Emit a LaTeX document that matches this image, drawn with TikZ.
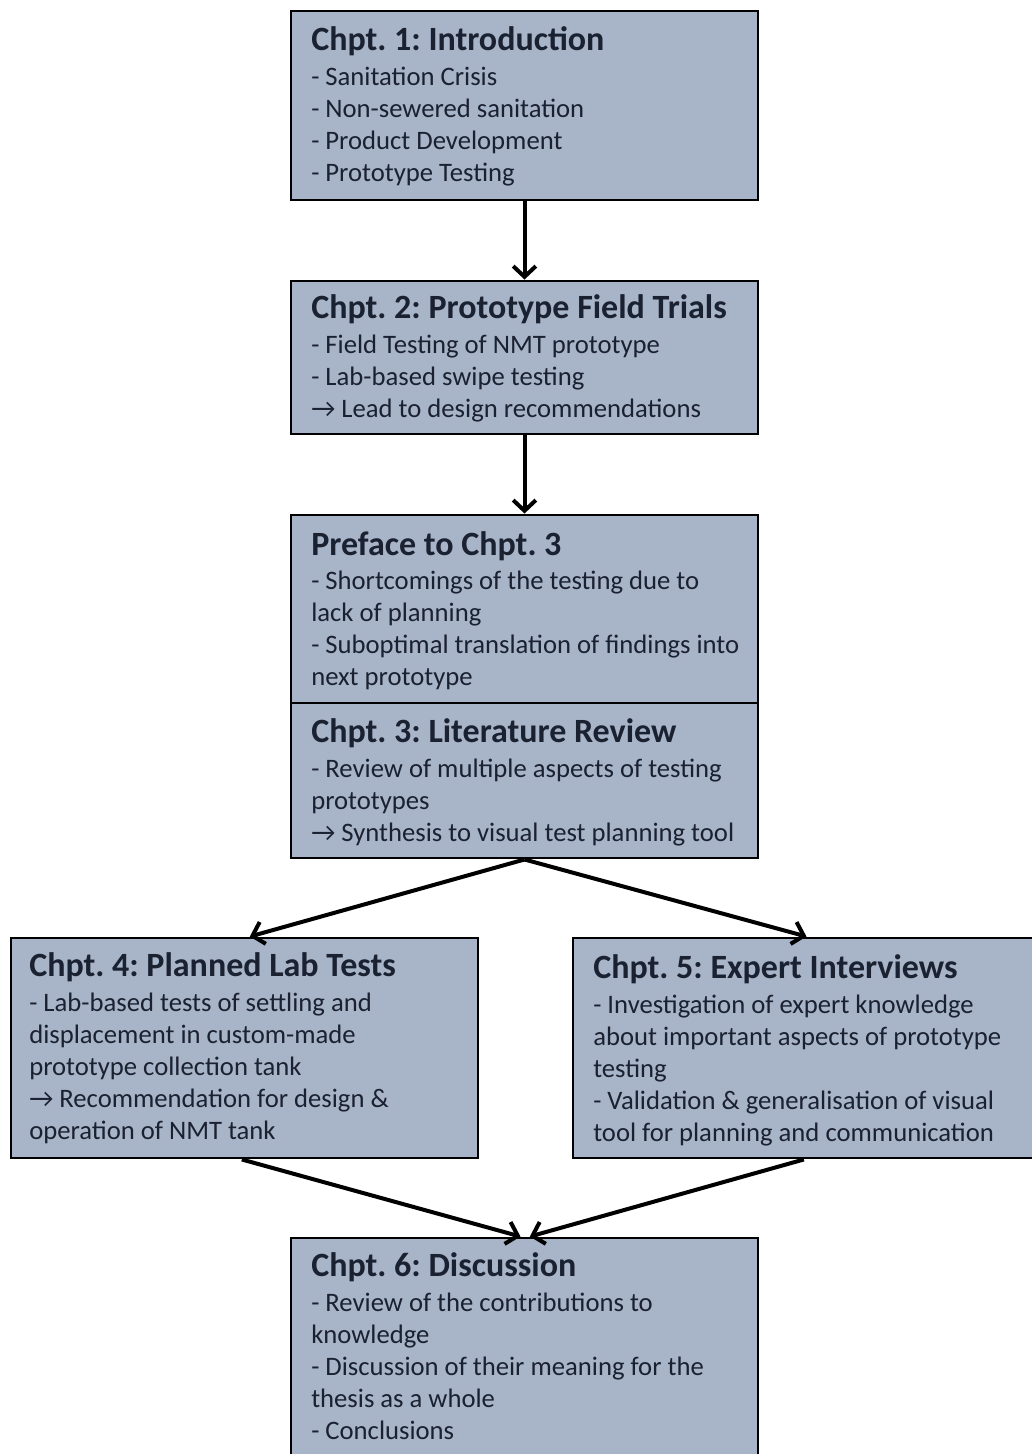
\documentclass[tikz,border=0pt]{standalone}
\usepackage{fontspec}
\setmainfont{Carlito}
\frenchspacing
\usetikzlibrary{arrows.meta,fit}
\definecolor{boxfill}{HTML}{A8B4C8}
\definecolor{txtcol}{HTML}{1A2131}
\newcommand{\bodylines}[1]{\parbox[t]{360pt}{\raggedright #1}}
\begin{document}
\begin{tikzpicture}[x=0.75pt,y=-0.75pt,
 box/.style={draw=black, line width=2.2pt, fill=boxfill, inner sep=0pt},
 ttl/.style={anchor=base west, inner sep=0pt, text=txtcol, font=\fontsize{25.5}{30}\selectfont\bfseries},
 bdy/.style={anchor=base west, inner sep=0pt, text=txtcol, font=\fontsize{20}{24}\selectfont},
 conn/.style={line width=3pt, -{Straight Barb[length=8pt,width=17pt]}}]
\clip (0,0) rectangle (1032,1454);
\fill[white] (0,0) rectangle (1032,1454);

% boxes
\node[box, fit={(291,11) (758,200)}] (b1) {};
\node[box, fit={(291,281) (758,434)}] (b2) {};
\node[box, fit={(291,515) (758,703)}] (b3) {};
\node[box, fit={(291,703) (758,858)}] (b3b) {};
\node[box, fit={(11,938) (478,1158)}] (b4) {};
\node[box, fit={(573,938) (1040,1158)}] (b5) {};
\node[box, fit={(291,1238) (758,1470)}] (b6) {};

% texts
\node[ttl] (t1) at (311,50) {Chpt. 1: Introduction};
\node[bdy] (l1) at (311,85) {\bodylines{- Sanitation Crisis\\- Non-sewered sanitation\\- Product Development\\- Prototype Testing}};

\node[ttl] (t2) at (311,318) {Chpt. 2: Prototype Field Trials};
\node[bdy] (l2) at (311,353) {\bodylines{- Field Testing of NMT prototype\\- Lab-based swipe testing\\→ Lead to design recommendations}};

\node[ttl] (t3) at (311,555) {Preface to Chpt. 3};
\node[bdy] (l3) at (311,589) {\bodylines{- Shortcomings of the testing due to\\lack of planning\\- Suboptimal translation of findings into\\next prototype}};

\node[ttl] (t3b) at (311,742) {Chpt. 3: Literature Review};
\node[bdy] (l3b) at (311,777) {\bodylines{- Review of multiple aspects of testing\\prototypes\\→ Synthesis to visual test planning tool}};

\node[ttl] (t4) at (29,976) {Chpt. 4: Planned Lab Tests};
\node[bdy] (l4) at (29,1011) {\bodylines{- Lab-based tests of settling and\\displacement in custom-made\\prototype collection tank\\→ Recommendation for design \&\\operation of NMT tank}};

\node[ttl] (t5) at (593,978) {Chpt. 5: Expert Interviews};
\node[bdy] (l5) at (593,1013) {\bodylines{- Investigation of expert knowledge\\about important aspects of prototype\\testing\\- Validation \& generalisation of visual\\tool for planning and communication}};

\node[ttl] (t6) at (311,1276) {Chpt. 6: Discussion};
\node[bdy] (l6) at (311,1311) {\bodylines{- Review of the contributions to\\knowledge\\- Discussion of their meaning for the\\thesis as a whole\\- Conclusions}};

% connectors
\draw[conn] (b1.south) -- (b2.north);
\draw[conn] (b2.south) -- (b3.north);
\draw[conn] (b3b.south) -- ([xshift=4]b4.north);
\draw[conn] (b3b.south) -- (b5.north);
\draw[conn] ([xshift=-2]b4.south) -- ([xshift=-3]b6.north);
\draw[conn] ([xshift=-2]b5.south) -- ([xshift=4]b6.north);
\end{tikzpicture}
\end{document}
